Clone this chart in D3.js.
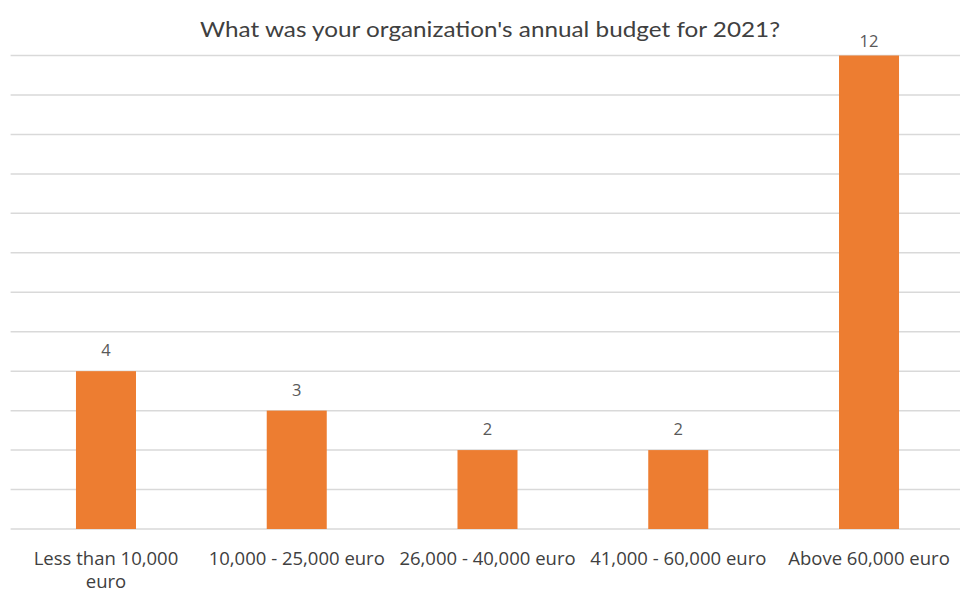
<!DOCTYPE html>
<html>
<head>
<meta charset="utf-8">
<script src="https://cdn.jsdelivr.net/npm/d3@7"></script>
<style>
  html, body { margin: 0; padding: 0; background: #fff; }
  svg { display: block; }
</style>
</head>
<body>
<svg id="chart" width="960" height="591"></svg>
<script>
// Survey responses: annual budget for 2021
const categories = [
  "Less than 10,000 euro",
  "10,000 - 25,000 euro",
  "26,000 - 40,000 euro",
  "41,000 - 60,000 euro",
  "Above 60,000 euro"
];
const counts = [4, 3, 2, 2, 12];
const gridTicks = [0, 1, 2, 3, 4, 5, 6, 7, 8, 9, 10, 11, 12];
const title = "What was your organization's annual budget for 2021?";

const svg = d3.select("#chart");
const margin = { left: 10.6, right: -4.4, top: 55.5, bottom: 62 };
const W = 960, H = 591;
const innerW = W - margin.left - margin.right;
const innerH = H - margin.top - margin.bottom;

const x = d3.scaleBand()
  .domain(categories)
  .range([0, innerW])
  .paddingInner(0.6854)
  .paddingOuter(0.3427);

const y = d3.scaleLinear()
  .domain([0, 12])
  .range([innerH, 0]);

const g = svg.append("g").attr("transform", `translate(${margin.left},${margin.top})`);

// Horizontal gridlines
g.append("g")
  .selectAll("line")
  .data(gridTicks)
  .join("line")
  .attr("x1", 0)
  .attr("x2", innerW)
  .attr("y1", d => y(d))
  .attr("y2", d => y(d))
  .attr("stroke", "#d9d9d9")
  .attr("stroke-width", 1.5);

// Bars
g.append("g")
  .selectAll("rect")
  .data(categories)
  .join("rect")
  .attr("x", d => x(d))
  .attr("width", x.bandwidth())
  .attr("y", (d, i) => y(counts[i]))
  .attr("height", (d, i) => y(0) - y(counts[i]))
  .attr("fill", "#ED7D31");

// Value labels above the bars (kept inside the chart area at the top)
g.append("g")
  .selectAll("text")
  .data(categories)
  .join("text")
  .attr("x", d => x(d) + x.bandwidth() / 2)
  .attr("y", (d, i) => Math.max(y(counts[i]) - 15, -9))
  .attr("text-anchor", "middle")
  .attr("font-family", "'Open Sans', sans-serif")
  .attr("font-size", 16.5)
  .attr("fill", "#595959")
  .text((d, i) => counts[i]);

// Category axis
const xAxis = g.append("g")
  .attr("transform", `translate(0,${innerH})`)
  .call(d3.axisBottom(x).tickSize(0).tickPadding(0));
xAxis.select(".domain").remove();
xAxis.selectAll("text")
  .attr("font-family", "'Open Sans', sans-serif")
  .attr("font-size", 18.5)
  .attr("fill", "#404040")
  .attr("dy", null)
  .attr("y", 36)
  .call(wrap, x.step());

function wrap(sel, width) {
  sel.each(function () {
    const text = d3.select(this);
    const words = text.text().split(/\s+/);
    const yPos = text.attr("y");
    text.text(null);
    let line = [];
    let lineNo = 0;
    let tspan = text.append("tspan").attr("x", 0).attr("y", yPos);
    for (const w of words) {
      line.push(w);
      tspan.text(line.join(" "));
      if (tspan.node().getComputedTextLength() > width - 4 && line.length > 1) {
        line.pop();
        tspan.text(line.join(" "));
        line = [w];
        lineNo++;
        tspan = text.append("tspan").attr("x", 0).attr("y", +yPos + lineNo * 22.5).text(w);
      }
    }
  });
}

// Title
svg.append("text")
  .attr("x", 490)
  .attr("y", 36.5)
  .attr("text-anchor", "middle")
  .attr("font-family", "Lato, sans-serif")
  .attr("font-size", 22)
  .attr("fill", "#404040")
  .attr("textLength", 580)
  .attr("lengthAdjust", "spacingAndGlyphs")
  .text(title);
</script>
</body>
</html>
